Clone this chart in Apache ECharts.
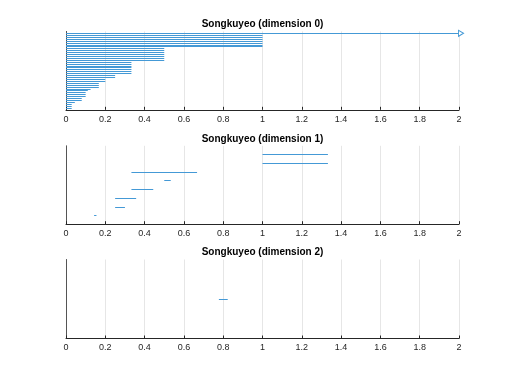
<!DOCTYPE html>
<html>
<head>
<meta charset="utf-8">
<script src="https://cdn.jsdelivr.net/npm/echarts@6/dist/echarts.min.js"></script>
<style>html,body{margin:0;padding:0;background:#fff}#chart{width:507px;height:380px}</style>
</head>
<body>
<div id="chart"></div>
<script>
// ---- data (top bar first) ----
const titles = ['Songkuyeo (dimension 0)', 'Songkuyeo (dimension 1)', 'Songkuyeo (dimension 2)'];
const xTicks = [0, 0.2, 0.4, 0.6, 0.8, 1, 1.2, 1.4, 1.6, 1.8, 2];

const dim0Births = [0,0,0,0,0,0,0,0,0,0, 0,0,0,0,0,0,0,0,0,0, 0,0,0,0,0,0,0,0,0,0, 0,0,0,0,0,0,0,0,0,0];
const dim0Deaths = [Infinity, 1,1,1,1,1,1,1, 0.5,0.5,0.5,0.5,0.5,0.5,0.5,
  0.333,0.333,0.333,0.333,0.333,0.333,0.333, 0.25,0.25, 0.2,0.2,
  0.167,0.167,0.167, 0.125, 0.111, 0.1,0.1,0.1, 0.08,0.08, 0.045, 0.029,0.029, 0.029];

const dim1Births = [1, 1, 0.333, 0.5, 0.333, 0.25, 0.25, 0.143];
const dim1Deaths = [1.333, 1.333, 0.667, 0.533, 0.444, 0.357, 0.3, 0.155];

const dim2Births = [0.778];
const dim2Deaths = [0.823];

const panels = [[dim0Births, dim0Deaths], [dim1Births, dim1Deaths], [dim2Births, dim2Deaths]];

// ---- layout ----
const gridTops = [31.4, 145.8, 259.5];
const gridHeights = [78.4, 78.4, 79];
const gridLeft = 66, gridRight = 48;
const xMin = xTicks[0], xMax = xTicks[xTicks.length - 1];
const barColor = '#4499d6';
const axisColor = '#262626';
const font = '"Liberation Sans", Arial, Helvetica, sans-serif';

const chart = echarts.init(document.getElementById('chart'), null, {renderer: 'canvas'});

const grids = [], xAxes = [], yAxes = [], series = [], graphics = [];
panels.forEach(([births, deaths], k) => {
  const n = births.length;
  grids.push({left: gridLeft, right: gridRight, top: gridTops[k], height: gridHeights[k], containLabel: false});
  xAxes.push({
    type: 'value', gridIndex: k, min: xMin, max: xMax, interval: 0.2,
    axisLine: {show: true, onZero: false, lineStyle: {color: axisColor, width: 1}},
    axisTick: {show: true, inside: true, length: 3, lineStyle: {color: axisColor}},
    axisLabel: {show: true, color: axisColor, fontSize: 9, fontFamily: font, margin: 5,
      formatter: v => String(parseFloat(v.toFixed(1)))},
    splitLine: {show: true, lineStyle: {color: '#e6e6e6', width: 1}}
  });
  yAxes.push({
    type: 'value', gridIndex: k, min: 0, max: n + 1,
    axisLine: {show: true, onZero: false, lineStyle: {color: '#555', width: 1}},
    axisTick: {show: false}, axisLabel: {show: false}, splitLine: {show: false}
  });
  const lineData = [], arrowData = [];
  births.forEach((b, i) => {
    const d = deaths[i];
    const y = n - i;
    const end = isFinite(d) ? d : xMax;
    lineData.push({coords: [[b, y], [end, y]]});
    if (!isFinite(d)) arrowData.push([xMax, y]);
  });
  series.push({
    type: 'lines', coordinateSystem: 'cartesian2d', xAxisIndex: k, yAxisIndex: k,
    polyline: false, silent: true, animation: false,
    lineStyle: {color: barColor, width: 1, opacity: 1, curveness: 0},
    data: lineData
  });
  if (arrowData.length) {
    series.push({
      type: 'scatter', xAxisIndex: k, yAxisIndex: k, silent: true, animation: false,
      symbol: 'triangle', symbolRotate: -90, symbolSize: [6, 5], symbolOffset: [2, 0],
      itemStyle: {color: '#fff', borderColor: barColor, borderWidth: 1, opacity: 1},
      data: arrowData, clip: false, z: 5
    });
  }
  graphics.push({
    type: 'text', x: gridLeft + (507 - gridLeft - gridRight) / 2, y: gridTops[k] - 7,
    style: {text: titles[k], align: 'center', verticalAlign: 'middle',
      font: 'bold 10px ' + font, fill: '#000'}
  });
});

chart.setOption({
  animation: false,
  backgroundColor: '#fff',
  grid: grids, xAxis: xAxes, yAxis: yAxes, series: series,
  graphic: graphics
});
</script>
</body>
</html>
